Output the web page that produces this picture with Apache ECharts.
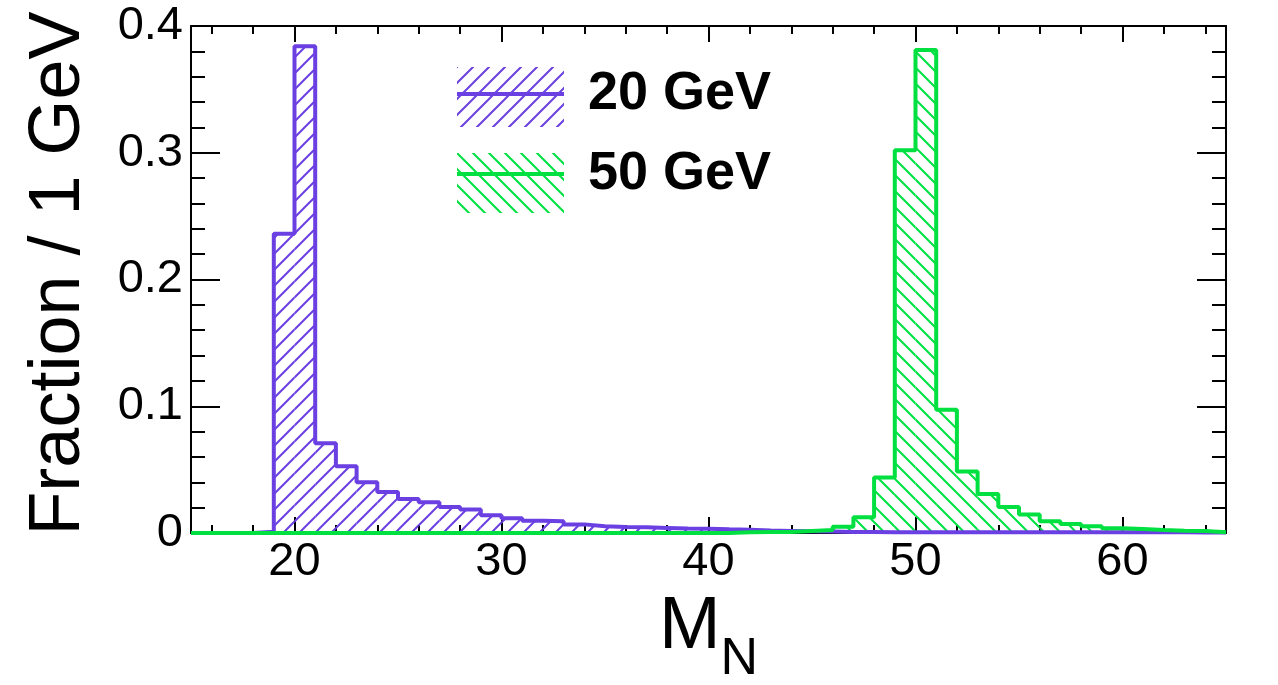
<!DOCTYPE html>
<html><head><meta charset="utf-8">
<script src="https://cdn.jsdelivr.net/npm/echarts@6/dist/echarts.min.js"></script>
<style>html,body{margin:0;padding:0;background:#fff}#c{width:1278px;height:685px}</style>
</head><body><div id="c"></div>
<script>
// ---- data ----
const binLow = [15,16,17,18,19,20,21,22,23,24,25,26,27,28,29,30,31,32,33,34,35,36,37,38,39,
                40,41,42,43,44,45,46,47,48,49,50,51,52,53,54,55,56,57,58,59,60,61,62,63,64];
const binWidth = 1;
const frac20 = [0,0,0,0.001,0.236,0.384,0.0709,0.0527,0.040,0.0323,0.0268,0.0243,0.0206,0.0185,0.014,
                0.0117,0.0096,0.0093,0.0068,0.0054,0.0048,0.0045,0.004,0.0035,0.0033,
                0.0029,0.0026,0.0019,0.0016,0.0013,0.0011,0.0008,0.0007,0.0006,0.0005,
                0.0005,0.0005,0.0005,0.0005,0.0005,0.0005,0.0005,0.0005,0.0005,0.0005,
                0.0005,0.0005,0.0005,0.0004,0.0004];
const frac50 = [0,0,0,0,0,0,0,0,0,0,0,0,0,0,0,
                0,0,0,0,0,0,0,0,0,0,
                0,0.0005,0.0008,0.0008,0.0016,0.0024,0.005,0.0124,0.0438,0.302,
                0.381,0.0972,0.0486,0.0308,0.0205,0.0145,0.0092,0.0071,0.0053,0.0037,
                0.0032,0.0024,0.0018,0.0016,0.0005];
const seriesNames = ['20 GeV', '50 GeV'];
const xMajor = [20,30,40,50,60];
const xMinor = [16,18,22,24,26,28,32,34,36,38,42,44,46,48,52,54,56,58,62,64];

// ---- style ----
const colors = ['#6b40e2', '#00e040'];
const FONT = 'Liberation Sans';

function makeHatch(color, dir) {
  const s = 16, c = document.createElement('canvas');
  c.width = s; c.height = s;
  const g = c.getContext('2d');
  g.strokeStyle = color; g.lineWidth = 2;
  g.beginPath();
  if (dir > 0) {
    g.moveTo(-2, s + 2); g.lineTo(s + 2, -2);
    g.moveTo(-2, 2); g.lineTo(2, -2);
    g.moveTo(s - 2, s + 2); g.lineTo(s + 2, s - 2);
  } else {
    g.moveTo(-2, -2); g.lineTo(s + 2, s + 2);
    g.moveTo(s - 2, -2); g.lineTo(s + 2, 2);
    g.moveTo(-2, s - 2); g.lineTo(2, s + 2);
  }
  g.stroke();
  return { image: c, repeat: 'repeat' };
}
const patterns = [makeHatch(colors[0], 1), makeHatch(colors[1], -1)];
const values = [frac20, frac50];

function fillSeries(i) {
  return {
    type: 'custom', name: seriesNames[i],
    data: binLow.map((x, k) => [x, values[i][k]]),
    encode: { x: 0, y: 1 },
    itemStyle: { color: colors[i] },
    silent: true, animation: false,
    renderItem(params, api) {
      const lo = api.value(0), v = api.value(1);
      if (!(v > 0)) return null;
      const p0 = api.coord([lo, 0]), p1 = api.coord([lo + binWidth, v]);
      return {
        type: 'rect',
        shape: { x: p0[0], y: p1[1], width: p1[0] - p0[0], height: p0[1] - p1[1] },
        style: { fill: patterns[i], stroke: null }
      };
    }
  };
}
function lineSeries(i) {
  const vals = values[i];
  const pts = binLow.map((x, k) => [x, vals[k]]);
  pts.push([binLow[binLow.length - 1] + binWidth, vals[vals.length - 1]]);
  return {
    type: 'line', name: seriesNames[i], step: 'end', symbol: 'none', clip: false,
    data: pts, lineStyle: { color: colors[i], width: 4 }, itemStyle: { color: colors[i] },
    silent: true, animation: false
  };
}

const tickLabel = { fontSize: 47, fontFamily: FONT, color: '#000' };
const blackLine = { show: true, onZero: false, lineStyle: { color: '#000', width: 2 } };

const option = {
  backgroundColor: '#fff',
  animation: false,
  grid: { left: 191, right: 52, top: 26, bottom: 152, containLabel: false, outerBoundsMode: 'none' },
  xAxis: [
    {
      type: 'value', position: 'bottom', min: 15, max: 65,
      axisLine: blackLine,
      axisTick: { show: true, inside: true, length: 16, customValues: xMajor, lineStyle: { color: '#000', width: 2 } },
      axisLabel: Object.assign({ show: true, margin: 6, customValues: xMajor }, tickLabel),
      splitLine: { show: false },
      name: '{m|M}{n|N}', nameLocation: 'middle', nameGap: 53,
      nameTextStyle: {
        fontFamily: FONT, color: '#000',
        rich: {
          m: { fontSize: 74, fontFamily: FONT, lineHeight: 74, verticalAlign: 'top', color: '#000' },
          n: { fontSize: 52, fontFamily: FONT, lineHeight: 138, verticalAlign: 'middle', color: '#000' }
        }
      }
    },
    {
      type: 'value', position: 'bottom', min: 15, max: 65,
      axisLine: { show: false, onZero: false },
      axisTick: { show: true, inside: true, length: 8, customValues: xMinor, lineStyle: { color: '#000', width: 2 } },
      axisLabel: { show: false }, splitLine: { show: false }
    },
    {
      type: 'value', position: 'top', min: 15, max: 65,
      axisLine: blackLine,
      axisTick: { show: true, inside: true, length: 16, customValues: xMajor, lineStyle: { color: '#000', width: 2 } },
      axisLabel: { show: false }, splitLine: { show: false }
    },
    {
      type: 'value', position: 'top', min: 15, max: 65,
      axisLine: { show: false, onZero: false },
      axisTick: { show: true, inside: true, length: 8, customValues: xMinor, lineStyle: { color: '#000', width: 2 } },
      axisLabel: { show: false }, splitLine: { show: false }
    }
  ],
  yAxis: [
    {
      type: 'value', position: 'left', min: 0, max: 0.4, interval: 0.1,
      axisLine: blackLine,
      axisTick: { show: true, inside: true, length: 29, lineStyle: { color: '#000', width: 2 } },
      minorTick: { show: true, splitNumber: 5, length: 14, lineStyle: { color: '#000', width: 2 } },
      axisLabel: Object.assign({ show: true, margin: 8 }, tickLabel),
      splitLine: { show: false }, minorSplitLine: { show: false },
      name: 'Fraction / 1 GeV', nameLocation: 'middle', nameGap: 96, nameRotate: 90,
      nameTextStyle: { fontSize: 72, fontFamily: FONT, color: '#000', padding: [0, 0, 0, 12] }
    },
    {
      type: 'value', position: 'right', min: 0, max: 0.4, interval: 0.1,
      axisLine: blackLine,
      axisTick: { show: true, inside: true, length: 29, lineStyle: { color: '#000', width: 2 } },
      minorTick: { show: true, splitNumber: 5, length: 14, lineStyle: { color: '#000', width: 2 } },
      axisLabel: { show: false }, splitLine: { show: false }, minorSplitLine: { show: false }
    }
  ],
  legend: [
    {
      left: 457, top: 67, padding: 0, orient: 'vertical', itemWidth: 107, itemHeight: 60, itemGap: 26,
      icon: 'rect', selectedMode: false, formatter: () => '',
      data: seriesNames.map((n, i) => ({ name: n, itemStyle: { color: patterns[i], borderWidth: 0 } })),
      textStyle: { fontSize: 10 }
    },
    {
      left: 457, top: 67, padding: 0, orient: 'vertical', itemWidth: 107, itemHeight: 60, itemGap: 26,
      icon: 'path://M0 0H107V4H0Z', selectedMode: false,
      data: seriesNames.map((n, i) => ({ name: n, itemStyle: { color: colors[i], borderWidth: 0 } })),
      textStyle: { fontSize: 54, fontWeight: 'bold', fontFamily: FONT, color: '#000', padding: [0, 0, 0, 19] }
    }
  ],
  series: [fillSeries(0), lineSeries(0), fillSeries(1), lineSeries(1)]
};

const chart = echarts.init(document.getElementById('c'), null, { renderer: 'canvas' });
chart.setOption(option);
</script>
</body></html>
